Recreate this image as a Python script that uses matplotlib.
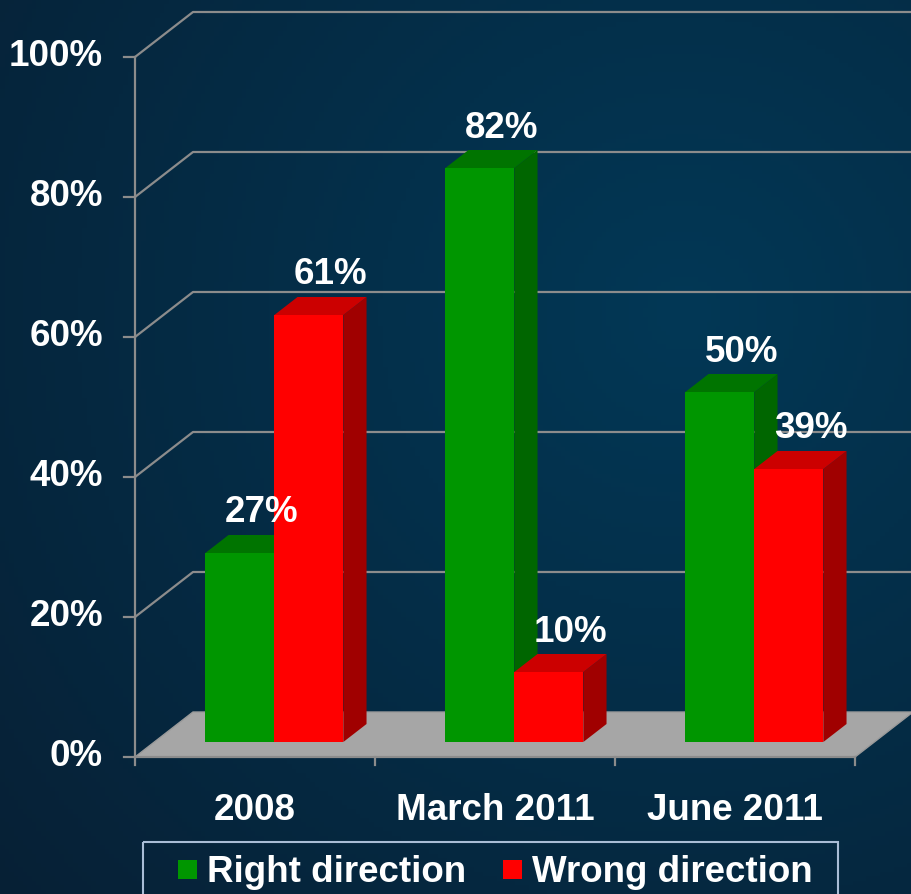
import numpy as np
import matplotlib
matplotlib.use("Agg")
from matplotlib import pyplot as plt
from matplotlib.patches import Polygon, Rectangle

categories = ["2008", "March 2011", "June 2011"]
right_dir = [27, 82, 50]
wrong_dir = [61, 10, 39]
series_names = ["Right direction", "Wrong direction"]
yticks = [0, 20, 40, 60, 80, 100]

plt.rcParams['font.family'] = ['Liberation Sans', 'DejaVu Sans']
FS = 26.5

W, H = 912, 894
fig = plt.figure(figsize=(W / 100, H / 100), dpi=100)

# background gradient
bg = fig.add_axes([0, 0, 1, 1])
yy, xx = np.mgrid[0:1:200j, 0:1:200j]
d = np.sqrt((xx - 0.75) ** 2 + (yy - 0.35) ** 2)
t = np.clip(d / 1.0, 0, 1)
c0 = np.array([0x02, 0x38, 0x56]) / 255
c1 = np.array([0x07, 0x20, 0x35]) / 255
img = c0[None, None, :] * (1 - t[..., None]) + c1[None, None, :] * t[..., None]
bg.imshow(img, extent=[0, 1, 0, 1], aspect='auto', origin='upper')
bg.set_xlim(0, W)
bg.set_ylim(H, 0)
bg.images[0].set_extent([0, W, H, 0])
bg.axis('off')

# front plane of the chart in pixels
x0, x1 = 135, 855
y0, y1 = 757, 57
ax = fig.add_axes([x0 / W, 1 - y0 / H, (x1 - x0) / W, (y0 - y1) / H])
ax.set_xlim(0, 3)
ax.set_ylim(0, 100)
ax.axis('off')

px_x = 3 / (x1 - x0)
px_y = 100 / (y0 - y1)
dxf, dyf = 58 * px_x, 45 * px_y     # full depth offset
grid_c = '#8c8c8c'

# floor
ax.add_patch(Polygon([(0, 0), (3, 0), (3 + dxf, dyf), (dxf, dyf)], closed=True,
                     facecolor='#a6a6a6', edgecolor='#9a9a9a', lw=1, zorder=2, clip_on=False))

# gridlines
for v in yticks[1:]:
    ax.plot([0, dxf, 3 + dxf], [v, v + dyf, v + dyf], color=grid_c, lw=1.6,
            zorder=1, clip_on=False)
ax.plot([0, 0], [0, 100], color=grid_c, lw=1.6, zorder=3, clip_on=False)
for v in yticks:
    ax.plot([-11 * px_x, 0], [v, v], color=grid_c, lw=1.6, zorder=3, clip_on=False)
    ax.text(-32 * px_x, v, f"{v}%", ha='right', va='center', color='white',
            fontsize=FS, fontweight='bold')
ax.plot([0, 3], [0, 0], color=grid_c, lw=1.6, zorder=3, clip_on=False)
for i in range(4):
    ax.plot([i, i], [0, -8 * px_y], color=grid_c, lw=1.6, zorder=3, clip_on=False)
for i, c in enumerate(categories):
    ax.text(i + 0.5, -54 * px_y, c, ha='center', va='center', color='white',
            fontsize=FS, fontweight='bold')

# bars
bx, by = dxf / 3, dyf / 3          # bar front plane
ddx, ddy = dxf * 0.4, dyf * 0.4    # bar depth
bw = 69 * px_x
styles = [('#009600', '#007400', '#006600'), ('#ff0000', '#cc0000', '#a00000')]
for i in range(3):
    for s, vals in enumerate([right_dir, wrong_dir]):
        v = vals[i]
        front, top, side = styles[s]
        left = i + 0.5 - bw + s * bw + bx
        base = by
        topy = by + v
        ax.add_patch(Polygon([(left + bw, base), (left + bw + ddx, base + ddy),
                              (left + bw + ddx, topy + ddy), (left + bw, topy)],
                             closed=True, facecolor=side, edgecolor='none', zorder=4 + s, clip_on=False))
        ax.add_patch(Polygon([(left, topy), (left + bw, topy), (left + bw + ddx, topy + ddy),
                              (left + ddx, topy + ddy)], closed=True, facecolor=top,
                             edgecolor='none', zorder=4 + s, clip_on=False))
        ax.add_patch(Rectangle((left, base), bw, v, facecolor=front, edgecolor='none',
                               zorder=4 + s, clip_on=False))
        ax.text(left + bw / 2 + 22 * px_x, topy + 40 * px_y, f"{v}%", ha='center',
                va='center', color='white', fontsize=FS, fontweight='bold', zorder=8)

# legend (drawn by hand in pixel coords, box runs off the bottom edge)
bg.add_patch(Rectangle((143, 842), 695, 70, facecolor='none', edgecolor='#a9bdd6',
                       lw=1.5, zorder=5))
for s, (name, x_sq) in enumerate(zip(series_names, [178, 503])):
    bg.add_patch(Rectangle((x_sq, 860), 19, 19, facecolor=styles[s][0],
                           edgecolor='none', zorder=5))
    bg.text(x_sq + 29, 882, name, ha='left', va='baseline', color='white',
            fontsize=FS, fontweight='bold', zorder=6)

fig.savefig('out.png', dpi=100)
